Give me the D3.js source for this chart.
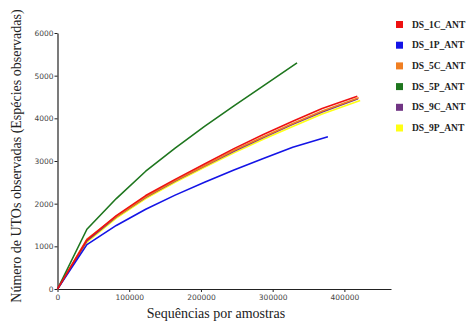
<!DOCTYPE html>
<html>
<head>
<meta charset="utf-8">
<script src="https://cdn.jsdelivr.net/npm/d3@7"></script>
<style>
  body { margin: 0; background: #fff; }
  svg { display: block; }
</style>
</head>
<body>
<svg id="chart" width="475" height="326"></svg>
<script>
const seriesNames = ['DS_1C_ANT', 'DS_1P_ANT', 'DS_5C_ANT', 'DS_5P_ANT', 'DS_9C_ANT', 'DS_9P_ANT'];
const seriesColors = ['#ee1111', '#1414e6', '#f07f22', '#1e761e', '#713584', '#ffff14'];

const depth1C = [0, 41000, 82000, 123000, 164000, 205000, 246000, 287000, 328000, 369000, 418000];
const otus1C  = [0, 1150, 1720, 2190, 2570, 2930, 3290, 3620, 3930, 4230, 4520];

const depth1P = [0, 41000, 82000, 123000, 164000, 205000, 246000, 287000, 328000, 377000];
const otus1P  = [0, 1040, 1490, 1870, 2200, 2500, 2790, 3060, 3320, 3570];

const depth5C = [0, 41000, 82000, 123000, 164000, 205000, 246000, 287000, 328000, 369000, 420000];
const otus5C  = [0, 1170, 1700, 2160, 2540, 2890, 3250, 3570, 3880, 4170, 4480];

const depth5P = [0, 41000, 82000, 123000, 164000, 205000, 246000, 287000, 334000];
const otus5P  = [0, 1400, 2120, 2760, 3300, 3810, 4290, 4760, 5300];

const depth9C = [0, 41000, 82000, 123000, 164000, 205000, 246000, 287000, 328000, 369000, 419000];
const otus9C  = [0, 1130, 1690, 2150, 2530, 2880, 3230, 3550, 3860, 4150, 4460];

const depth9P = [0, 41000, 82000, 123000, 164000, 205000, 246000, 287000, 328000, 369000, 422000];
const otus9P  = [0, 1100, 1660, 2120, 2500, 2850, 3190, 3510, 3810, 4100, 4420];

const xTicks = [0, 100000, 200000, 300000, 400000];
const yTicks = [0, 1000, 2000, 3000, 4000, 5000, 6000];

const allDepths = [depth1C, depth1P, depth5C, depth5P, depth9C, depth9P];
const allOtus = [otus1C, otus1P, otus5C, otus5P, otus9C, otus9P];

let svg = d3.select('#chart');

let x = d3.scaleLinear().domain([0, 465000]).range([57.5, 391]);
let y = d3.scaleLinear().domain([0, 6000]).range([289, 33]);

// axes
let xAxis = d3.axisBottom(x).tickValues(xTicks).tickFormat(d3.format('d')).tickSize(3).tickSizeOuter(0);
let yAxis = d3.axisLeft(y).tickValues(yTicks).tickFormat(d3.format('d')).tickSize(3).tickSizeOuter(0);

let gx = svg.append('g').attr('transform', `translate(0,${y(0)})`).call(xAxis);
let gy = svg.append('g').attr('transform', `translate(${x(0)},0)`).call(yAxis);

[gx, gy].forEach(g => {
    g.select('.domain').attr('stroke', '#222').attr('stroke-width', 1.2);
    g.selectAll('.tick line').attr('stroke', '#222');
    g.selectAll('.tick text')
        .attr('fill', '#444')
        .style('font-family', '"DejaVu Sans", sans-serif')
        .style('font-size', '7.5px');
});
gy.selectAll('.tick text').attr('x', -4);

// curves, drawn last-to-first so the red one sits on top
let line = d3.line().x(d => x(d[0])).y(d => y(d[1]));

let order = [5, 4, 2, 3, 1, 0];
order.forEach(i => {
    let pts = allDepths[i].map((d, j) => [d, allOtus[i][j]]);
    svg.append('path')
        .datum(pts)
        .attr('fill', 'none')
        .attr('stroke', seriesColors[i])
        .attr('stroke-width', 1.6)
        .attr('stroke-linejoin', 'round')
        .attr('d', line);
});

// legend
let legend = svg.append('g');
seriesNames.forEach((name, i) => {
    let ly = 24.5 + i * 20.7;
    legend.append('rect')
        .attr('x', 396).attr('y', ly - 3.5)
        .attr('width', 7).attr('height', 7)
        .attr('fill', seriesColors[i]);
    legend.append('text')
        .attr('x', 412).attr('y', ly + 3)
        .style('font-family', '"Liberation Serif", "Times New Roman", serif')
        .style('font-weight', 'bold')
        .style('font-size', '9.5px')
        .attr('fill', '#222')
        .text(name);
});

// axis titles
svg.append('text')
    .attr('x', 216).attr('y', 318)
    .attr('text-anchor', 'middle')
    .style('font-family', '"Liberation Serif", "Times New Roman", serif')
    .style('font-size', '14px')
    .attr('fill', '#222')
    .text('Sequências por amostras');

svg.append('text')
    .attr('transform', 'translate(21,156) rotate(-90)')
    .attr('text-anchor', 'middle')
    .style('font-family', '"Liberation Serif", "Times New Roman", serif')
    .style('font-size', '14px')
    .attr('fill', '#222')
    .text('Número de UTOs observadas (Espécies observadas)');
</script>
</body>
</html>
